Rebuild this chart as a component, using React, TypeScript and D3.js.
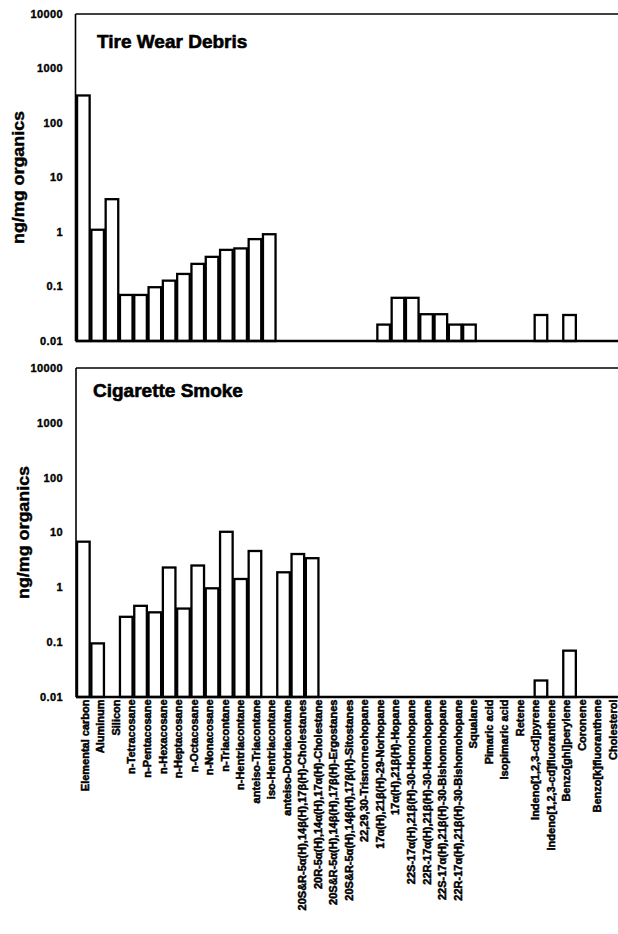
import React from "react";
import * as d3 from "d3";

// Compound categories along the x axis
const categories = [
  "Elemental carbon",
  "Aluminum",
  "Silicon",
  "n-Tetracosane",
  "n-Pentacosane",
  "n-Hexacosane",
  "n-Heptacosane",
  "n-Octacosane",
  "n-Nonacosane",
  "n-Triacontane",
  "n-Hentriacontane",
  "anteiso-Triacontane",
  "iso-Hentriacontane",
  "anteiso-Dotriacontane",
  "20S&R-5α(H),14β(H),17β(H)-Cholestanes",
  "20R-5α(H),14α(H),17α(H)-Cholestane",
  "20S&R-5α(H),14β(H),17β(H)-Ergostanes",
  "20S&R-5α(H),14β(H),17β(H)-Sitostanes",
  "22,29,30-Trisnorneohopane",
  "17α(H),21β(H)-29-Norhopane",
  "17α(H),21β(H)-Hopane",
  "22S-17α(H),21β(H)-30-Homohopane",
  "22R-17α(H),21β(H)-30-Homohopane",
  "22S-17α(H),21β(H)-30-Bishomohopane",
  "22R-17α(H),21β(H)-30-Bishomohopane",
  "Squalane",
  "Pimaric acid",
  "Isopimaric acid",
  "Retene",
  "Indeno[1,2,3-cd]pyrene",
  "Indeno[1,2,3-cd]fluoranthene",
  "Benzo[ghi]perylene",
  "Coronene",
  "Benzo[k]fluoranthene",
  "Cholesterol",
];

// ng/mg organics; null = not detected
const tireWearValues: (number | null)[] = [
  320, 1.1, 4.0, 0.07, 0.07, 0.097, 0.128, 0.17, 0.26, 0.35, 0.47, 0.5, 0.74, 0.91,
  null, null, null, null, null, null, null,
  0.02, 0.062, 0.062, 0.031, 0.031, 0.02, 0.02,
  null, null, null, null, 0.03, null, 0.03,
];

const cigaretteSmokeValues: (number | null)[] = [
  6.8, 0.095, null, 0.29, 0.46, 0.35, 2.3, 0.41, 2.5, 0.96, 10.3, 1.42, 4.6, null,
  1.88, 4.05, 3.4,
  null, null, null, null, null, null, null, null, null, null, null, null, null, null, null,
  0.02, null, 0.07,
];

const yTickValues = [0.01, 0.1, 1, 10, 100, 1000, 10000];
const yTickLabels = ["0.01", "0.1", "1", "10", "100", "1000", "10000"];
const panelTitles = ["Tire Wear Debris", "Cigarette Smoke"];
const yAxisTitle = "ng/mg organics";

const W = 618;
const H = 934;
const FONT = "'Liberation Sans', Arial, Helvetica, sans-serif";

const panels = [
  { title: panelTitles[0], values: tireWearValues, top: 14, bottom: 341, left: 75.5, titleX: 97, titleY: 48, axisTitleX: 24 },
  { title: panelTitles[1], values: cigaretteSmokeValues, top: 368, bottom: 697, left: 76, titleX: 93, titleY: 397, axisTitleX: 29 },
];

const step = 14.3;
const x = d3
  .scaleBand<string>()
  .domain(categories)
  .range([76.2, 76.2 + step * categories.length])
  .paddingInner(0.12)
  .paddingOuter(0.06);

const xLabel = d3.scalePoint<string>().domain(categories).range([85, 613]);

function Panel({ p }: { p: (typeof panels)[number] }) {
  const y = d3.scaleLog().domain([0.01, 10000]).range([p.bottom, p.top]);
  return (
    <g>
      {/* bars */}
      {categories.map((c, i) => {
        const v = p.values[i];
        if (v == null) return null;
        const top = y(v);
        return (
          <rect
            key={c}
            x={x(c)}
            y={top}
            width={x.bandwidth()}
            height={p.bottom - top}
            fill="#fff"
            stroke="#000"
            strokeWidth={2.3}
          />
        );
      })}
      {/* frame */}
      <line x1={p.left} x2={p.left} y1={p.top} y2={p.bottom} stroke="#000" strokeWidth={1.6} />
      <line x1={p.left} x2={W + 5} y1={p.top} y2={p.top} stroke="#000" strokeWidth={1.6} />
      <line x1={p.left} x2={W + 5} y1={p.bottom} y2={p.bottom} stroke="#000" strokeWidth={2.6} />
      {/* y tick labels */}
      {yTickValues.map((t, i) => (
        <text
          key={t}
          x={63}
          y={y(t)}
          dy="0.35em"
          textAnchor="end"
          fontFamily={FONT}
          fontWeight={700}
          fontSize={11}
          letterSpacing={0.4}
          stroke="#000"
          strokeWidth={0.35}
        >
          {yTickLabels[i]}
        </text>
      ))}
      {/* y axis title */}
      <text
        transform={`translate(${p.axisTitleX},${(p.top + p.bottom) / 2}) rotate(-90)`}
        textAnchor="middle"
        fontFamily={FONT}
        fontWeight={700}
        fontSize={16}
        textLength={133}
        lengthAdjust="spacingAndGlyphs"
        stroke="#000"
        strokeWidth={0.4}
      >
        {yAxisTitle}
      </text>
      {/* panel title */}
      <text x={p.titleX} y={p.titleY} fontFamily={FONT} fontWeight={700} fontSize={19} stroke="#000" strokeWidth={0.6}>
        {p.title}
      </text>
    </g>
  );
}

export default function App() {
  const labelTop = panels[1].bottom + 2.5;
  return (
    <svg
      width={W}
      height={H}
      viewBox={`0 0 ${W} ${H}`}
      style={{ position: "absolute", left: 0, top: 0, background: "#fff" }}
    >
      <rect width={W} height={H} fill="#fff" />
      {panels.map((p) => (
        <Panel key={p.title} p={p} />
      ))}
      {/* category labels */}
      {categories.map((c) => (
        <text
          key={c}
          transform={`translate(${xLabel(c)},${labelTop}) rotate(-90)`}
          dy="0.35em"
          textAnchor="end"
          fontFamily={FONT}
          fontWeight={700}
          fontSize={11}
          stroke="#000"
          strokeWidth={0.5}
        >
          {c}
        </text>
      ))}
    </svg>
  );
}
